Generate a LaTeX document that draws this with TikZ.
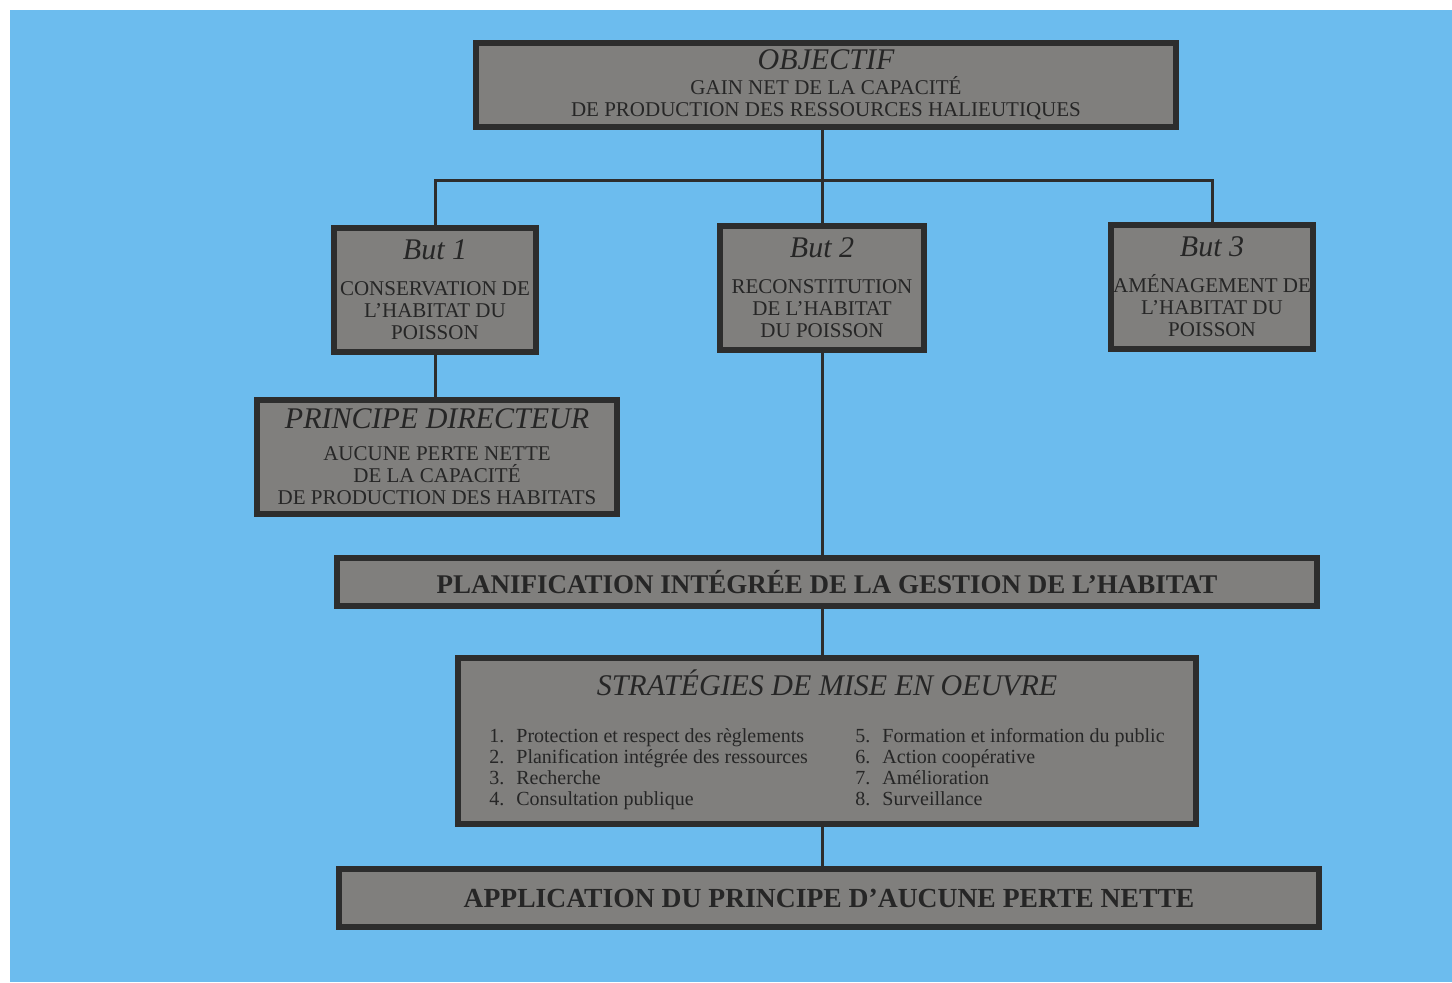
\documentclass[tikz,border=0pt]{standalone}
\usepackage{fontspec}
\setmainfont{Liberation Serif}
\usepackage{tikz}
\definecolor{fond}{RGB}{108,188,238}
\definecolor{boite}{RGB}{128,127,125}
\definecolor{bord}{RGB}{45,45,45}
\definecolor{encre}{RGB}{38,38,38}
\tikzstyle{block} = [draw=bord, fill=boite, rectangle, line width=3pt,
    inner sep=0pt, text=encre, align=center]
\tikzstyle{line} = [draw=bord, line width=1.5pt]
\tikzstyle{junction} = [coordinate]
\newcommand{\titre}[1]{{\fontsize{15}{18}\selectfont\itshape #1}}
\newcommand{\corps}{\fontsize{10.5}{11}\selectfont}
\newcommand{\gras}{\fontsize{13.5}{16}\selectfont\bfseries}
\newcommand{\rang}[1]{\makebox[13.5pt][l]{#1.}}

\begin{document}
\begin{tikzpicture}[x=0.5pt, y=-0.5pt]
    \useasboundingbox (0,0) rectangle (1452,982);
    \fill [fond] (10,10) rectangle (1452,982);
    % objectif et buts
    \node [block, minimum width=350pt, minimum height=42pt, font=\corps] (objectif) at (826,85)
        {\titre{OBJECTIF}\\[1.5pt] GAIN NET DE LA CAPACITÉ\\ DE PRODUCTION DES RESSOURCES HALIEUTIQUES};
    \node [block, minimum width=101pt, minimum height=62pt, font=\corps] (but1) at (435,290)
        {\titre{But 1}\\[7pt] CONSERVATION DE\\ L’HABITAT DU\\ POISSON};
    \node [block, minimum width=102pt, minimum height=62pt, font=\corps] (but2) at (822,288)
        {\titre{But 2}\\[7pt] RECONSTITUTION\\ DE L’HABITAT\\ DU POISSON};
    \node [block, minimum width=101pt, minimum height=62pt, font=\corps] (but3) at (1212,287)
        {\titre{But 3}\\[7pt] AMÉNAGEMENT DE\\ L’HABITAT DU\\ POISSON};
    \node [junction] (bus) at (822,180) {};
    \node [block, minimum width=180pt, minimum height=57pt, font=\corps] (principe) at (437,457)
        {\titre{PRINCIPE DIRECTEUR}\\[5pt] AUCUNE PERTE NETTE\\ DE LA CAPACITÉ\\ DE PRODUCTION DES HABITATS};
    % mise en oeuvre
    \node [block, minimum width=490pt, minimum height=24pt, font=\gras] (planif) at (827,582)
        {PLANIFICATION INTÉGRÉE DE LA GESTION DE L’HABITAT};
    \node [block, minimum width=369pt, minimum height=83pt, font=\corps] (strat) at (827,741)
        {\titre{STRATÉGIES DE MISE EN OEUVRE}\\[15pt]
        {\fontsize{10}{10.5}\selectfont
        \begin{tabular}{@{}p{183pt}@{}l@{}}
        \rang{1}Protection et respect des règlements & \rang{5}Formation et information du public\\
        \rang{2}Planification intégrée des ressources & \rang{6}Action coopérative\\
        \rang{3}Recherche & \rang{7}Amélioration\\
        \rang{4}Consultation publique & \rang{8}Surveillance
        \end{tabular}}};
    \node [block, minimum width=490pt, minimum height=29pt, font=\gras] (appli) at (829,898)
        {\fontsize{13.8}{16}\selectfont APPLICATION DU PRINCIPE D’AUCUNE PERTE NETTE};
    \draw [line] (objectif.south -| bus) -- (bus);
    \draw [line] (but1.north) |- (bus) -| (but3.north);
    \draw [line] (bus) -- (but2.north);
    \draw [line] (but1.south) -- (but1.south |- principe.north);
    \draw [line] (but2.south) -- (but2.south |- planif.north);
    \draw [line] (planif.south -| but2) -- (strat.north -| but2);
    \draw [line] (strat.south -| but2) -- (appli.north -| but2);
\end{tikzpicture}
\end{document}
